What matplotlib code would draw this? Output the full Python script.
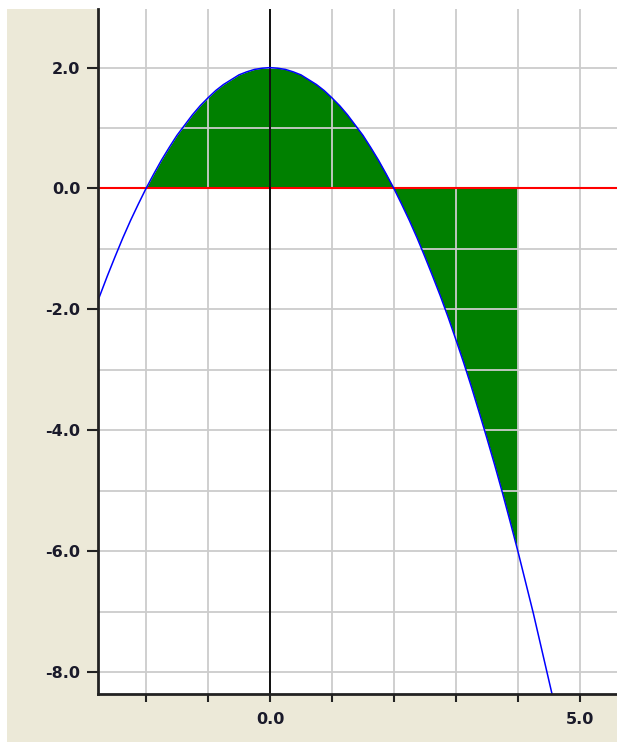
import numpy as np
import matplotlib
matplotlib.use('Agg')
import matplotlib.pyplot as plt
from matplotlib.patches import Rectangle

# curve points
curve_x = [-2.8, -2.625, -2.5, -2.375, -2.25, -2.125, -2.0, -1.875, -1.75, -1.625,
           -1.5, -1.375, -1.25, -1.125, -1.0, -0.875, -0.75, -0.625, -0.5, -0.375,
           -0.25, -0.125, 0.0, 0.125, 0.25, 0.375, 0.5, 0.625, 0.75, 0.875,
           1.0, 1.125, 1.25, 1.375, 1.5, 1.625, 1.75, 1.875, 2.0, 2.125,
           2.25, 2.375, 2.5, 2.625, 2.75, 2.875, 3.0, 3.125, 3.25, 3.375,
           3.5, 3.625, 3.75, 3.875, 4.0, 4.25, 4.6]
curve_y = [-1.92, -1.45, -1.13, -0.82, -0.53, -0.26, 0.0, 0.24, 0.47, 0.68,
           0.88, 1.05, 1.22, 1.37, 1.5, 1.62, 1.72, 1.80, 1.88, 1.93,
           1.97, 1.99, 2.0, 1.99, 1.97, 1.93, 1.88, 1.80, 1.72, 1.62,
           1.5, 1.37, 1.22, 1.05, 0.88, 0.68, 0.47, 0.24, 0.0, -0.26,
           -0.53, -0.82, -1.13, -1.45, -1.78, -2.13, -2.5, -2.88, -3.28, -3.70,
           -4.13, -4.57, -5.03, -5.51, -6.0, -7.03, -8.58]
fill_from, fill_to = -2.0, 4.0

x_ticks = [-2, -1, 0, 1, 2, 3, 4, 5]
x_labels = ['', '', '0.0', '', '', '', '', '5.0']
y_ticks = [-8, -6, -4, -2, 0, 2]
y_labels = ['-8.0', '-6.0', '-4.0', '-2.0', '0.0', '2.0']
y_grid = [-7, -5, -3, -1, 1]

W, H = 617, 742
fig = plt.figure(figsize=(W / 100, H / 100), dpi=100, facecolor='white')
fig.patches.append(Rectangle((7 / W, 0), 1, (H - 9) / H, transform=fig.transFigure,
                             facecolor='#ECE9D8', edgecolor='none', zorder=-1))

ax = fig.add_axes([98.3 / W, (H - 694.3) / H, (W - 98.3) / W, (694.3 - 9) / H])
ax.set_zorder(1)
ax.set_facecolor('white')
ax.set_xlim(-2.77, 5.6)
ax.set_ylim(-8.37, 2.97)

cx = np.array(curve_x)
cy = np.array(curve_y)
m = (cx >= fill_from) & (cx <= fill_to)
ax.fill_between(cx[m], cy[m], 0, color='#008000', lw=0, zorder=1)

ax.set_xticks(x_ticks)
ax.set_xticklabels(x_labels)
ax.set_yticks(y_ticks)
ax.set_yticklabels(y_labels)
ax.set_yticks(y_grid, minor=True)
ax.tick_params(axis='y', which='minor', length=0)
ax.tick_params(axis='y', which='major', length=8, width=1.5, pad=5, color='#222222')
ax.tick_params(axis='x', which='major', length=6, width=1.5, pad=7, color='#222222')
for lab in ax.get_xticklabels() + ax.get_yticklabels():
    lab.set_fontweight('bold')
    lab.set_fontsize(11.5)
    lab.set_color('#1a1a2a')

ax.set_axisbelow(False)
ax.grid(True, which='both', color='#cccccc', lw=1.3, zorder=2)

ax.axhline(0, color='#ff0000', lw=1.5, zorder=3)
ax.axvline(0, color='black', lw=1.3, zorder=3)
ax.plot(cx, cy, color='#0000ff', lw=1.1, zorder=4)

for s in ['top', 'right']:
    ax.spines[s].set_visible(False)
for s in ['left', 'bottom']:
    ax.spines[s].set_linewidth(2)
    ax.spines[s].set_color('#222222')
    ax.spines[s].set_zorder(5)

fig.savefig('out.png', dpi=100, facecolor='white')
